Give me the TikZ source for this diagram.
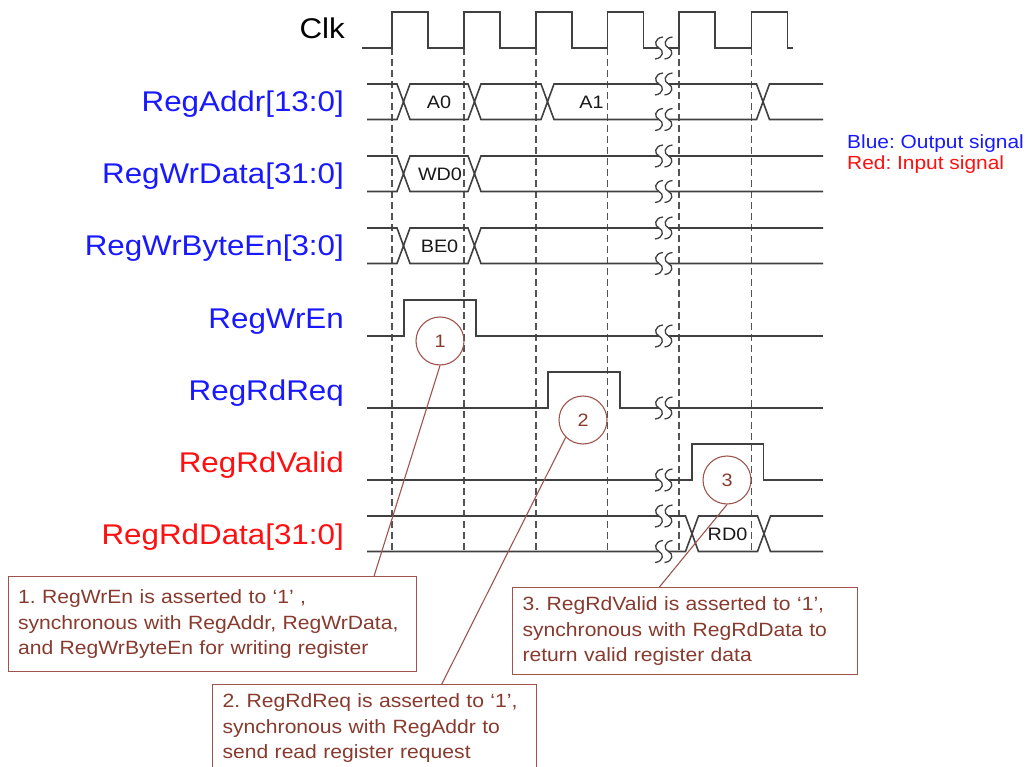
\documentclass[tikz,border=0pt]{standalone}
\usepackage{fontspec}
\setmainfont{Liberation Sans}[FakeStretch=1.1]
\usetikzlibrary{calc}
\definecolor{outblue}{RGB}{25,25,255}
\definecolor{inred}{RGB}{255,15,15}
\definecolor{wire}{RGB}{64,64,64}
\definecolor{boxline}{RGB}{158,84,76}
\definecolor{boxtext}{RGB}{135,58,45}
\frenchspacing

\begin{document}
\begin{tikzpicture}[x=1pt,y=-1pt]
\tikzstyle{sig}=[draw=wire, line width=1.6pt]
\tikzstyle{grid}=[draw=wire!90, line width=1.3pt, dash pattern=on 7pt off 4pt]
\tikzstyle{lbl}=[inner sep=0pt, anchor=base east, font=\fontsize{28.5}{30}\selectfont]
\tikzstyle{val}=[inner sep=0pt, text=black!90, font=\fontsize{18}{20}\selectfont]
\tikzstyle{legend}=[inner sep=0pt, anchor=base west, font=\fontsize{19}{21}\selectfont]
\tikzstyle{num}=[circle, draw=boxline, line width=1.1pt, minimum size=48pt, inner sep=0pt, text=boxtext, font=\fontsize{18}{20}\selectfont]
\tikzstyle{callbox}=[draw=boxline, line width=1.1pt, anchor=north west, align=left, inner xsep=10pt, inner ysep=0pt, minimum height=87pt, text=boxtext, font=\fontsize{19.2}{25.5}\selectfont]
\tikzstyle{connect}=[draw=boxline, line width=1.1pt]
\tikzset{brk/.pic={
  \fill[white] (7,-11) .. controls (-2,-10) and (-2,-2) .. (3,0) .. controls (8,2) and (8,10) .. (-1,11)
    -- (8.5,11) .. controls (17.5,10) and (17.5,2) .. (12.5,0) .. controls (7.5,-2) and (7.5,-10) .. (16.5,-11) -- cycle;
  \foreach \d in {0,9.5}
    \draw[sig, line width=1.3pt] (\d+7,-11) .. controls (\d-2,-10) and (\d-2,-2) .. (\d+3,0) .. controls (\d+8,2) and (\d+8,10) .. (\d-1,11);
}}
\useasboundingbox (0,0) rectangle (1030,767);
\clip (0,0) rectangle (1030,767);

% signal names
\node[lbl] (clk) at (345,39) {Clk};
\node[lbl, text=outblue] (addr) at (344,112) {RegAddr[13:0]};
\node[lbl, text=outblue] (wrdata) at (344,184) {RegWrData[31:0]};
\node[lbl, text=outblue] (byteen) at (344,256) {RegWrByteEn[3:0]};
\node[lbl, text=outblue] (wren) at (344,328) {RegWrEn};
\node[lbl, text=outblue] (rdreq) at (344,400) {RegRdReq};
\node[lbl, text=inred] (rdvalid) at (344,472) {RegRdValid};
\node[lbl, text=inred] (rddata) at (344,544) {RegRdData[31:0]};

\node[legend, text=outblue] (blue) at (847,149) {Blue: Output signal};
\node[legend, text=inred] (red) at (847,170) {Red: Input signal};

% clock edges
\foreach \x in {392,464,536,607.5,679,751.5}
  \draw[grid] (\x,48) -- (\x,552);

\draw[sig] (362,48) foreach \x in {392,464,536,607.5,679,751.5} { -- (\x,48) -- (\x,12) -- (\x+36,12) -- (\x+36,48) } -- (793,48);

% buses
\foreach \t/\xs in {84/{403.5,474.5,547.5,763}, 156/{403.5,474.5}, 228/{403.5,474.5}, 516/{692,764}} {
  \draw[sig] (367,\t) foreach \c in \xs { -- (\c-6.5,\t) -- (\c,\t+17.75) -- (\c+6.5,\t) } -- (823,\t);
  \draw[sig] (367,\t+35.5) foreach \c in \xs { -- (\c-6.5,\t+35.5) -- (\c,\t+17.75) -- (\c+6.5,\t+35.5) } -- (823,\t+35.5);
  \pic at (656,\t) {brk};
  \pic at (656,\t+35.5) {brk};
}

% single lines
\draw[sig] (367,336) -- (404,336) -- (404,300) -- (476,300) -- (476,336) -- (823,336);
\draw[sig] (367,408) -- (548,408) -- (548,372) -- (620,372) -- (620,408) -- (823,408);
\draw[sig] (367,480) -- (692,480) -- (692,444) -- (763.5,444) -- (763.5,480) -- (823,480);
\foreach \y in {48,336,408,480}
  \pic at (656,\y) {brk};

\node[val] (a0) at (439,102) {A0};
\node[val] (a1) at (591.5,102) {A1};
\node[val] (wd0) at (440,174) {WD0};
\node[val] (be0) at (439.5,246) {BE0};
\node[val] (rd0) at (727.5,534) {RD0};

% callouts
\node[num] (c1) at (440,341) {1};
\node[num] (c2) at (583,420) {2};
\node[num] (c3) at (727,480) {3};

\node[callbox, text width=388.5pt, minimum height=95pt] (note1) at (7.5,576) {1. RegWrEn is asserted to ‘1’ ,\\synchronous with RegAddr, RegWrData,\\and RegWrByteEn for writing register};
\node[callbox, text width=303.5pt] (note2) at (212,684) {2. RegRdReq is asserted to ‘1’,\\synchronous with RegAddr to\\send read register request};
\node[callbox, text width=325pt] (note3) at (512,587) {3. RegRdValid is asserted to ‘1’,\\synchronous with RegRdData to\\return valid register data};

\path (c1.south) edge [connect] ($(note1.north west)!0.895!(note1.north east)$)
      (c2.south west) edge [connect] ($(note2.north west)!0.708!(note2.north east)$)
      (c3.south) edge [connect] ($(note3.north west)!0.426!(note3.north east)$);
\end{tikzpicture}
\end{document}
